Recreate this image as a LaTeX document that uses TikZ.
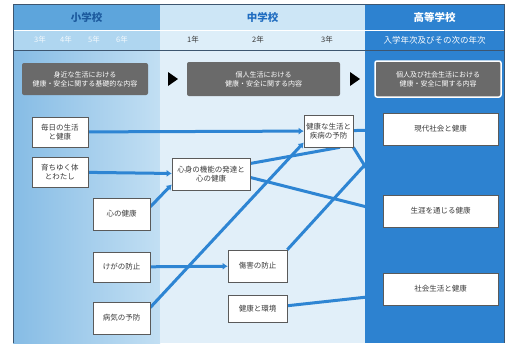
\documentclass[tikz,border=0pt]{standalone}
\usepackage{fontspec}
\setmainfont{Noto Sans CJK JP}
\usetikzlibrary{arrows.meta, positioning}
\definecolor{elemhd}{HTML}{5DA5DC}
\definecolor{elemtxt}{HTML}{1C5A9E}
\definecolor{elemyr}{HTML}{AFD6F0}
\definecolor{midhd}{HTML}{CDE6F6}
\definecolor{midtxt}{HTML}{1F6CC0}
\definecolor{midyr}{HTML}{DDEEF9}
\definecolor{hsblue}{HTML}{2D82D0}
\definecolor{elembodyL}{HTML}{86BCE5}
\definecolor{elembodyR}{HTML}{C2DFF3}
\definecolor{midbody}{HTML}{E1EFF9}
\definecolor{stagegrey}{HTML}{6A6A6A}
\definecolor{boxline}{HTML}{5A5A5A}
\definecolor{txtgrey}{HTML}{3A3A3A}
\definecolor{linkblue}{HTML}{2E85D3}
\definecolor{framec}{HTML}{3D5670}
\pgfdeclarelayer{colbg}
\pgfdeclarelayer{links}
\pgfdeclarelayer{hscol}
\pgfsetlayers{colbg,links,hscol,main}
\tikzstyle{head} = [rectangle, inner sep=0pt, minimum height=26pt, font=\fontsize{10.5}{12}\selectfont\bfseries]
\tikzstyle{yearrow} = [rectangle, inner sep=0pt, minimum height=20pt, font=\fontsize{7.5}{9}\selectfont]
\tikzstyle{stage} = [rectangle, rounded corners=2pt, fill=stagegrey, text=white, align=center, inner sep=1pt, font=\fontsize{7}{9}\selectfont]
\tikzstyle{topic} = [rectangle, draw=boxline, fill=white, line width=0.6pt, align=center, inner sep=1pt, text=txtgrey, font=\fontsize{7.5}{9}\selectfont]
\tikzstyle{link} = [line width=3pt, draw=linkblue]
\tikzstyle{arrow} = [link, -{Latex[length=5pt,width=7pt]}]

\begin{document}
\begin{tikzpicture}[x=1pt, y=-1pt]
\useasboundingbox (0,0) rectangle (512,346);

% column backgrounds
\begin{pgfonlayer}{colbg}
\fill[white] (0,0) rectangle (512,346);
\fill[left color=elembodyL, right color=elembodyR] (13,50) rectangle (160,343);
\fill[midbody] (160,50) rectangle (365,343);
\end{pgfonlayer}
\begin{pgfonlayer}{hscol}
\fill[hsblue] (365,50) rectangle (504,343);
\end{pgfonlayer}

% header rows
\node (elemhead) [head, fill=elemhd, text=elemtxt, minimum width=147pt] at (86.5,17) {小学校};
\node (midhead) [head, fill=midhd, text=midtxt, minimum width=205pt] at (262.5,17) {中学校};
\node (highhead) [head, fill=hsblue, text=white, minimum width=139pt] at (434.5,17) {高等学校};

\node (elemyear) [yearrow, fill=elemyr, minimum width=147pt] at (86.5,40) {};
\node (midyear) [yearrow, fill=midyr, minimum width=205pt] at (262.5,40) {};
\node (highyear) [yearrow, fill=hsblue, text=white, minimum width=139pt, font=\fontsize{8.5}{10}\selectfont] at (434.5,40) {入学年次及びその次の年次};
\foreach \yx/\yt [count=\i] in {40/3,66/4,94/5,122/6}
  \node (eyr\i) [yearrow, text=white!85!elemyr] at (\yx,40) {\yt 年};
\foreach \yx/\yt [count=\i] in {193/1,258/2,327/3}
  \node (myr\i) [yearrow, text=txtgrey] at (\yx,40) {\yt 年};

\draw[white, line width=1pt] (13,30) -- (504,30);
\draw[framec, line width=0.8pt] (13,50) -- (504,50);
\draw[framec, line width=0.8pt] (13,343) -- (13,4) -- (504,4) -- (504,343);

% stage boxes
\node (stageelem) [stage, minimum width=126pt, minimum height=32pt] at (85,79) {身近な生活における\\健康・安全に関する基礎的な内容};
\node (stagemid) [stage, minimum width=153pt, minimum height=34pt] at (263.5,79) {個人生活における\\健康・安全に関する内容};
\node (stagehigh) [stage, draw=white, line width=1.5pt, minimum width=126pt, minimum height=36pt] at (438,79) {個人及び社会生活における\\健康・安全に関する内容};
\foreach \tx in {168,350}
  \fill (\tx,72) -- (\tx+10,79) -- (\tx,86) -- cycle;

% elementary
\node (mainichi) [topic, minimum width=56pt, minimum height=30pt] at (60,132) {毎日の生活\\と健康};
\node (sodachi) [topic, minimum width=56pt, minimum height=30pt] at (60,172) {育ちゆく体\\とわたし};
\node (kokoro) [topic, minimum width=57pt, minimum height=32pt] at (121.5,214) {心の健康};
\node (kega) [topic, minimum width=57pt, minimum height=30pt] at (121.5,267) {けがの防止};
\node (byouki) [topic, minimum width=57pt, minimum height=32pt] at (121.5,318) {病気の予防};

% junior high
\node (shinshin) [topic, minimum width=78pt, minimum height=32pt] at (211,174) {心身の機能の発達と\\心の健康};
\node (kenkou) [topic, minimum width=49pt, minimum height=32pt] at (328.5,131) {健康な生活と\\疾病の予防};
\node (shougai) [topic, minimum width=59pt, minimum height=32pt] at (257.5,266) {傷害の防止};
\node (kankyou) [topic, minimum width=59pt, minimum height=27pt] at (257.5,309) {健康と環境};

% senior high
\node (gendai) [topic, minimum width=115pt, minimum height=32pt] at (440.5,129) {現代社会と健康};
\node (lifelong) [topic, minimum width=115pt, minimum height=32pt] at (440.5,211) {生涯を通じる健康};
\node (shakai) [topic, minimum width=115pt, minimum height=32pt] at (440.5,289) {社会生活と健康};

\begin{pgfonlayer}{links}
\draw [arrow] (mainichi) -- (kenkou);
\draw [arrow] (sodachi) -- (shinshin);
\draw [arrow] (kokoro.14) -- (shinshin.195);
\draw [arrow] (kega) -- (shougai);
\draw [arrow] (byouki.20) -- (kenkou.205);
\draw [link] (shinshin.15) -- (kenkou.305);
\draw [link] (shinshin.-5) -- (lifelong.west);
\draw [link] (kenkou) -- (gendai);
\draw [link] (kenkou.south east) -- (lifelong.north west);
\draw [link] (shougai.north east) -- (gendai.south west);
\draw [link] (kankyou) -- (shakai);
\end{pgfonlayer}

\end{tikzpicture}
\end{document}
